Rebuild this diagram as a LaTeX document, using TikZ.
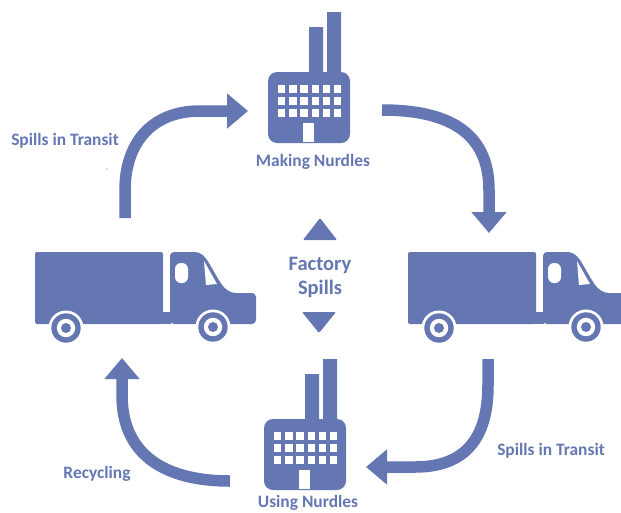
\documentclass[tikz,border=0pt]{standalone}
\usepackage{fontspec}
\setmainfont{Carlito}
\usetikzlibrary{arrows.meta}
\definecolor{nurdleblue}{HTML}{6577B3}
\tikzset{
	flowarrow/.style={draw=nurdleblue,line width=11.5pt,-{Triangle[width=34pt,length=21pt]}},
	caption/.style={text=nurdleblue,font=\bfseries\fontsize{17.4}{20}\selectfont,inner sep=0pt,align=center},
	bigcaption/.style={text=nurdleblue,font=\bfseries\fontsize{20.5}{24}\selectfont,inner sep=0pt,align=center},
	factory/.pic={
		\fill[nurdleblue,rounded corners=9pt] (0,0) rectangle (82,71);
		\fill[nurdleblue] (41,-45) rectangle (55,2) (59,-60) rectangle (73,2);
		\foreach \i in {0,...,5}
		\foreach \j in {0,1,2}
		\fill[white] ({10+11.2*\i},{13+12*\j}) rectangle +(7.3,8);
		\fill[white] (35,51) rectangle (46,70);
	},
	truck/.pic={
		\fill[nurdleblue,rounded corners=2pt] (0,0) rectangle (128,72);
		\fill[nurdleblue] (127,60) rectangle (136,72);
		\fill[nurdleblue,rounded corners=4pt] (135,72) -- (135,0) -- (164,0) -- (171,6) -- (185,30)
			.. controls (190,37) and (195,41) .. (205,41) -- (221,41) -- (221,72) -- cycle;
		\fill[white,rounded corners=6pt] (140,11) rectangle (153,31);
		\fill[white] (169,9) -- (182,32) -- (171,33) -- cycle;
		\foreach \x/\y in {31/76,178/75}{
			\fill[white] (\x,\y) circle (17.5);
			\fill[nurdleblue] (\x,\y) circle (14.7);
			\fill[white] (\x,\y) circle (9.2);
			\fill[nurdleblue] (\x,\y) circle (5);
		}
	},
}

\begin{document}
\begin{tikzpicture}[x=1pt,y=-1pt]
	\useasboundingbox (0,0) rectangle (621,512);
	\clip (0,0) rectangle (621,512);
	% the four stops
	\pic at (268,72) {factory};
	\pic at (264,419) {factory};
	\pic at (35,252) {truck};
	\pic at (408,252) {truck};
	% ends of the arrows
	\coordinate (a1) at (125,218);
	\coordinate (a2) at (248,111);
	\coordinate (b1) at (382,110);
	\coordinate (b2) at (489,233);
	\coordinate (c1) at (488,359);
	\coordinate (c2) at (366,467);
	\coordinate (d1) at (230,481);
	\coordinate (d2) at (122,358);
	\path[flowarrow] (a1) -- (125,190) .. controls (125,145) and (150,111) .. (200,111) -- (a2);
	\path[flowarrow] (b1) .. controls (445,110) and (489,130) .. (489,190) -- (b2);
	\path[flowarrow] (c1) -- (488,385) .. controls (488,430) and (472,467) .. (415,467) -- (c2);
	\path[flowarrow] (d1) .. controls (165,481) and (122,455) .. (122,395) -- (d2);
	% labels
	\node[caption] (making) at (313,161.5) {Making Nurdles};
	\node[caption] (using) at (308,503) {Using Nurdles};
	\node[caption] (transita) at (65,140.5) {Spills in Transit};
	\node[caption] (transitb) at (551,450.5) {Spills in Transit};
	\node[caption] (recycling) at (97,473.5) {Recycling};
	\node[bigcaption] (spills) at (320,277.5) {Factory\\Spills};
	\fill[nurdleblue,rounded corners=1pt] (320,218) -- (337,240) -- (303,240) -- cycle;
	\fill[nurdleblue,rounded corners=1pt] (319,333) -- (336,312) -- (302,312) -- cycle;
	\fill[nurdleblue] (107,169) circle (0.6);
\end{tikzpicture}
\end{document}
